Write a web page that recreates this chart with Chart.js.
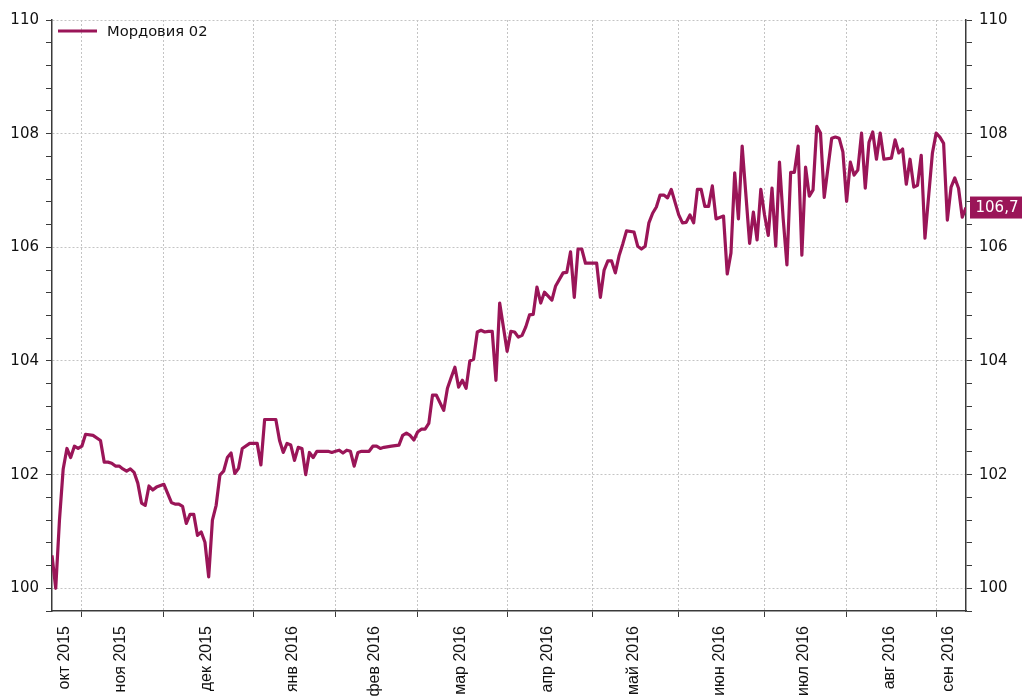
<!DOCTYPE html>
<html>
<head>
<meta charset="utf-8">
<script src="https://cdn.jsdelivr.net/npm/chart.js@4.4.0/dist/chart.umd.min.js"></script>
<style>
  html, body { margin: 0; padding: 0; background: #fff; overflow: hidden; }
  canvas { display: block; }
</style>
</head>
<body>
<canvas id="chart" width="1022" height="697"></canvas>
<script>
// trading day number (0 = end of Sep 2015) and index value
const days = [
  0, 1, 2, 3, 4, 5, 6, 7, 8, 9, 11, 13, 14, 15, 16, 17, 18, 19, 20, 21,
  22, 23, 24, 25, 26, 27, 28, 30, 32, 33, 34, 35, 36, 37, 38, 39, 40, 41, 42, 43,
  44, 45, 46, 47, 48, 49, 50, 51, 53, 55, 56, 57, 60, 61, 62, 63, 64, 65, 66, 67,
  68, 69, 70, 71, 74, 75, 76, 77, 78, 79, 80, 81, 82, 83, 85, 86, 87, 88, 89, 91,
  93, 94, 95, 96, 97, 98, 99, 100, 101, 102, 103, 105, 106, 107, 108, 109, 110, 111, 112, 113,
  114, 115, 116, 117, 118, 119, 120, 122, 123, 124, 125, 126, 127, 128, 129, 130, 131, 132, 134, 135,
  137, 138, 139, 140, 141, 142, 143, 146, 147, 148, 149, 150, 151, 152, 153, 154, 156, 157, 158, 159,
  160, 161, 162, 163, 164, 165, 166, 168, 169, 170, 171, 172, 173, 174, 175, 176, 177, 178, 180, 181,
  182, 183, 184, 185, 187, 188, 189, 190, 191, 192, 193, 194, 195, 196, 197, 198, 199, 200, 201, 202,
  203, 204, 205, 206, 207, 209, 210, 211, 212, 213, 214, 215, 216, 217, 218, 219, 220, 221, 222, 223,
  225, 226, 227, 228, 229, 230, 231, 232, 233, 234, 236, 237, 238, 239, 240, 241, 242, 243, 244, 245
];
const values = [
  100.58, 100.0, 101.2, 102.1, 102.46, 102.3, 102.5, 102.46, 102.5, 102.71, 102.69, 102.6, 102.22, 102.22, 102.2, 102.15, 102.15, 102.1, 102.06, 102.1,
  102.04, 101.85, 101.5, 101.46, 101.8, 101.73, 101.78, 101.83, 101.51, 101.48, 101.48, 101.44, 101.14, 101.3, 101.3, 100.93, 100.99, 100.81, 100.2, 101.2,
  101.46, 101.99, 102.06, 102.3, 102.38, 102.02, 102.11, 102.46, 102.55, 102.55, 102.17, 102.97, 102.97, 102.6, 102.39, 102.55, 102.52, 102.25, 102.48, 102.46,
  102.0, 102.39, 102.3, 102.41, 102.41, 102.39, 102.41, 102.43, 102.38, 102.43, 102.41, 102.15, 102.39, 102.41, 102.41, 102.5, 102.5, 102.46, 102.48, 102.5,
  102.52, 102.69, 102.73, 102.69, 102.61, 102.75, 102.8, 102.8, 102.9, 103.4, 103.4, 103.13, 103.52, 103.71, 103.89, 103.54, 103.66, 103.52, 104.0, 104.03,
  104.51, 104.54, 104.51, 104.52, 104.52, 103.66, 105.02, 104.17, 104.52, 104.51, 104.42, 104.45, 104.6, 104.81, 104.82, 105.3, 105.02, 105.21, 105.07, 105.32,
  105.55, 105.56, 105.92, 105.12, 105.97, 105.97, 105.72, 105.72, 105.12, 105.6, 105.76, 105.76, 105.55, 105.85, 106.06, 106.29, 106.27, 106.02, 105.97, 106.02,
  106.43, 106.6, 106.71, 106.92, 106.92, 106.87, 107.02, 106.57, 106.43, 106.44, 106.57, 106.43, 107.02, 107.02, 106.72, 106.72, 107.08, 106.5, 106.55, 105.53,
  105.9, 107.31, 106.5, 107.78, 106.07, 106.62, 106.13, 107.02, 106.57, 106.21, 107.04, 106.02, 107.5, 106.5, 105.69, 107.32, 107.32, 107.78, 105.86, 107.41,
  106.9, 107.01, 108.13, 108.01, 106.88, 107.92, 107.94, 107.92, 107.68, 106.81, 107.5, 107.27, 107.36, 108.01, 107.04, 107.85, 108.03, 107.55, 108.01, 107.55,
  107.57, 107.89, 107.66, 107.73, 107.11, 107.55, 107.06, 107.09, 107.62, 106.16, 107.66, 108.01, 107.94, 107.83, 106.48, 107.06, 107.22, 107.04, 106.53, 106.7
];

const seriesName = "Мордовия 02";
const monthLabels = [
  "окт 2015", "ноя 2015", "дек 2015", "янв 2016", "фев 2016", "мар 2016",
  "апр 2016", "май 2016", "июн 2016", "июл 2016", "авг 2016", "сен 2016"
];
// first trading day of ноя 2015 ... сен 2016
const monthStarts = [8, 30, 54, 76, 98, 122, 145, 168, 191, 213, 237];
const xMin = 0, xMax = 245;
const yMin = 99.6, yMax = 110, yMinorStep = 0.4;

const lineColor = "#9a1558";
const gridColor = "#c4c4c4";
const axisColor = "#3a3a3a";

// labels sit in the middle of each month
const bounds = [xMin, ...monthStarts, xMax];
const labelPos = monthLabels.map((_, i) => (bounds[i] + bounds[i + 1]) / 2);

const yTicks = [];
for (let k = 0; yMin + k * yMinorStep <= yMax + 1e-9; k++) {
  yTicks.push(Math.round((yMin + k * yMinorStep) * 10) / 10);
}
const isMajor = v => Math.abs(v - Math.round(v)) < 1e-6 && Math.round(v) % 2 === 0;

const points = days.map((d, i) => ({ x: d, y: values[i] }));

// legend drawn inside the plot, top-left
const insideLegend = {
  id: "insideLegend",
  afterDraw(chart) {
    const ctx = chart.ctx;
    const area = chart.chartArea;
    const y = area.top + 11;
    const x = area.left + 6;
    ctx.save();
    ctx.strokeStyle = lineColor;
    ctx.lineWidth = 3;
    ctx.beginPath();
    ctx.moveTo(x, y);
    ctx.lineTo(x + 39, y);
    ctx.stroke();
    ctx.fillStyle = "#111";
    ctx.font = "14.7px 'DejaVu Sans'";
    ctx.textBaseline = "middle";
    ctx.fillText(seriesName, x + 49, y + 1);
    ctx.restore();
  }
};

const lastValueTag = {
  id: "lastValueTag",
  afterDraw(chart) {
    const ctx = chart.ctx;
    const scale = chart.scales.y2;
    const last = values[values.length - 1];
    const y = scale.getPixelForValue(last);
    const x = scale.left + 4;
    ctx.save();
    ctx.fillStyle = lineColor;
    ctx.fillRect(x, y - 11, chart.width - x, 22);
    ctx.fillStyle = "#fff";
    ctx.font = "15px 'DejaVu Sans'";
    ctx.textAlign = "center";
    ctx.textBaseline = "middle";
    ctx.fillText(last.toFixed(1).replace(".", ","), (x + chart.width) / 2 + 1, y + 1);
    ctx.restore();
  }
};

const yAxis = (position, drawGrid) => ({
  type: "linear",
  position: position,
  min: yMin,
  max: yMax,
  afterBuildTicks: scale => { scale.ticks = yTicks.map(v => ({ value: v })); },
  afterFit: scale => { scale.width = position === "left" ? 52 : 56; },
  border: { display: true, color: axisColor, width: 1.5, dash: [2, 2] },
  grid: {
    drawOnChartArea: drawGrid,
    color: c => (c.tick && isMajor(c.tick.value) ? gridColor : "rgba(0,0,0,0)"),
    tickColor: axisColor,
    tickLength: 6,
    tickBorderDash: [],
    lineWidth: 1
  },
  ticks: {
    autoSkip: false,
    padding: 7,
    color: "#111",
    font: { family: "DejaVu Sans", size: 15 },
    callback: v => (isMajor(v) ? String(Math.round(v)) : "")
  }
});

new Chart(document.getElementById("chart"), {
  type: "line",
  data: {
    datasets: [{
      label: seriesName,
      data: points,
      borderColor: lineColor,
      backgroundColor: lineColor,
      borderWidth: 3.2,
      pointRadius: 0,
      tension: 0,
      borderJoinStyle: "round"
    }]
  },
  options: {
    responsive: false,
    devicePixelRatio: 1,
    animation: false,
    layout: { padding: { top: 20, left: 0, right: 0, bottom: 0 } },
    scales: {
      x: {
        type: "linear",
        position: "bottom",
        min: xMin,
        max: xMax,
        weight: 0,
        afterBuildTicks: scale => { scale.ticks = monthStarts.map(v => ({ value: v })); },
        afterFit: scale => { scale.height = 6; },
        border: { display: true, color: axisColor, width: 1.5, dash: [2, 2] },
        grid: { color: gridColor, tickColor: axisColor, tickLength: 6, tickBorderDash: [] },
        ticks: { display: false, autoSkip: false }
      },
      xl: {
        type: "linear",
        position: "bottom",
        min: xMin,
        max: xMax,
        weight: 1,
        afterBuildTicks: scale => { scale.ticks = labelPos.map(v => ({ value: v })); },
        afterFit: scale => { scale.height = 80; },
        border: { display: false },
        grid: { display: false },
        ticks: {
          autoSkip: false,
          minRotation: 90,
          maxRotation: 90,
          padding: 1,
          labelOffset: -2,
          color: "#111",
          font: { family: "Liberation Sans", size: 16 },
          callback: (v, i) => monthLabels[i]
        }
      },
      y: yAxis("left", true),
      y2: yAxis("right", false)
    },
    plugins: {
      legend: { display: false },
      tooltip: { enabled: false }
    }
  },
  plugins: [insideLegend, lastValueTag]
});
</script>
</body>
</html>
